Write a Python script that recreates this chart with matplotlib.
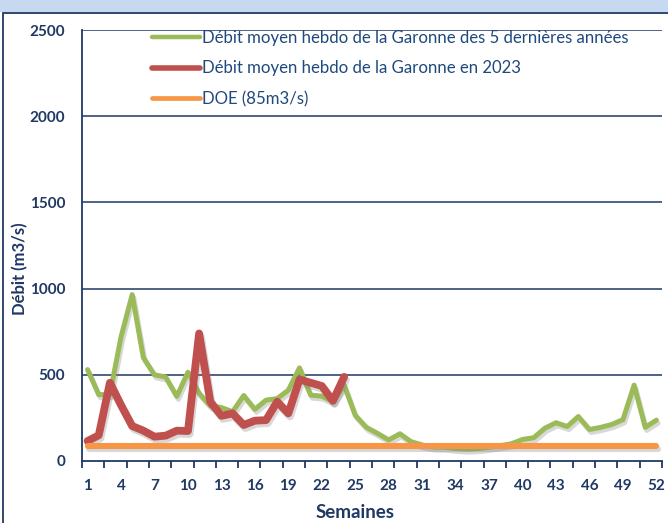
import matplotlib
matplotlib.use("Agg")
import matplotlib.pyplot as plt
import matplotlib.patheffects as pe
from matplotlib.patches import Rectangle
import numpy as np

weeks = list(range(1, 53))
debit_5ans = [530, 385, 385, 720, 965, 600, 500, 487, 375, 515, 393, 320, 310, 286, 380, 300,
              353, 362, 411, 540, 382, 376, 344, 440, 265, 195, 160, 122, 158, 112, 93, 81,
              80, 73, 69, 72, 80, 89, 100, 125, 135, 190, 222, 200, 258, 183, 195, 212, 240,
              440, 195, 237]
debit_2023 = [116, 149, 454, 324, 203, 176, 141, 147, 176, 174, 740, 344, 262, 276, 209, 234,
              237, 344, 276, 473, 454, 435, 349, 488]
doe_value = 85
doe = [doe_value] * len(weeks)
y_ticks = [0, 500, 1000, 1500, 2000, 2500]
x_tick_weeks = list(range(1, 53, 3))

labels = ["Débit moyen hebdo de la Garonne des 5 dernières années",
          "Débit moyen hebdo de la Garonne en 2023",
          "DOE (85m3/s)"]

NAVY = "#1F3864"
LEGEND_TXT = "#1F497D"
GREEN = "#9BBB59"
RED = "#C0504D"
ORANGE = "#F79646"

plt.rcParams['font.family'] = ['Lato', 'DejaVu Sans']

W, H = 668, 523
fig = plt.figure(figsize=(W / 100, H / 100), dpi=100)
fig.patch.set_facecolor("white")

# top band and outer border
fig.patches.append(Rectangle((0, 1 - 12 / H), 1, 12 / H, transform=fig.transFigure,
                             facecolor="#C6D9F1", edgecolor="none", zorder=0))
fig.patches.append(Rectangle((2.5 / W, -0.05), 1.1, 1 - 12.5 / H + 0.05, transform=fig.transFigure,
                             facecolor="none", edgecolor=NAVY, linewidth=1.3, zorder=1))

left, right, top, bottom = 82 / W, 662 / W, 1 - 30 / H, 1 - 461 / H
ax = fig.add_axes([left, bottom, right - left, top - bottom])
ax.set_facecolor("white")

shadow = [pe.SimpleLineShadow(offset=(1.2, -2.2), shadow_color="gray", alpha=0.3), pe.Normal()]

ax.plot(weeks, debit_5ans, color=GREEN, lw=3.6, solid_capstyle="round",
        solid_joinstyle="round", path_effects=shadow, zorder=3, label=labels[0])
ax.plot(weeks[:len(debit_2023)], debit_2023, color=RED, lw=5.6, solid_capstyle="round",
        solid_joinstyle="round", path_effects=shadow, zorder=4, label=labels[1])
ax.plot(weeks, doe, color=ORANGE, lw=4.4, solid_capstyle="round",
        path_effects=shadow, zorder=5, label=labels[2])

ax.set_xlim(0.5, 52.5)
ax.set_ylim(0, 2500)

for v in y_ticks[1:]:
    ax.axhline(v, color=NAVY, lw=1.1, zorder=1)

for s in ["top", "right"]:
    ax.spines[s].set_visible(False)
for s in ["left", "bottom"]:
    ax.spines[s].set_color(NAVY)
    ax.spines[s].set_linewidth(1.3)

ax.set_yticks(y_ticks)
ax.set_yticklabels([str(v) for v in y_ticks])
ax.tick_params(axis="y", length=0, pad=12, labelsize=11, labelcolor=NAVY)
for t in ax.get_yticklabels():
    t.set_fontweight("bold")

ax.set_xticks(x_tick_weeks)
ax.set_xticklabels([str(w) for w in x_tick_weeks])
ax.set_xticks(np.arange(0.5, 53, 2), minor=True)
ax.tick_params(axis="x", which="major", length=0, pad=13, labelsize=11, labelcolor=NAVY)
ax.tick_params(axis="x", which="minor", length=5, width=1.3, color=NAVY, direction="out")
for t in ax.get_xticklabels():
    t.set_fontweight("bold")

fig.text(20 / W, 1 - 269 / H, "Débit (m3/s)", rotation=90, ha="center", va="center",
         fontsize=12, fontweight="bold", color=NAVY)
fig.text(355 / W, 1 - 513 / H, "Semaines", ha="center", va="center",
         fontsize=13.5, fontweight="bold", color=NAVY)

leg = ax.legend(loc="upper left", bbox_to_anchor=((147 - 82) / (662 - 82), 1.0 + 0.012),
                frameon=False, fontsize=12.1, handlelength=2.85, handletextpad=0.1,
                labelspacing=0.87, borderaxespad=0.0, borderpad=0.3, labelcolor=LEGEND_TXT)
for line in leg.get_lines():
    line.set_path_effects([])
    line.set_solid_capstyle("round")
leg.get_lines()[0].set_linewidth(3.2)
leg.get_lines()[1].set_linewidth(4.0)
leg.get_lines()[2].set_linewidth(3.4)

fig.savefig("out.png", dpi=100, facecolor="white")
